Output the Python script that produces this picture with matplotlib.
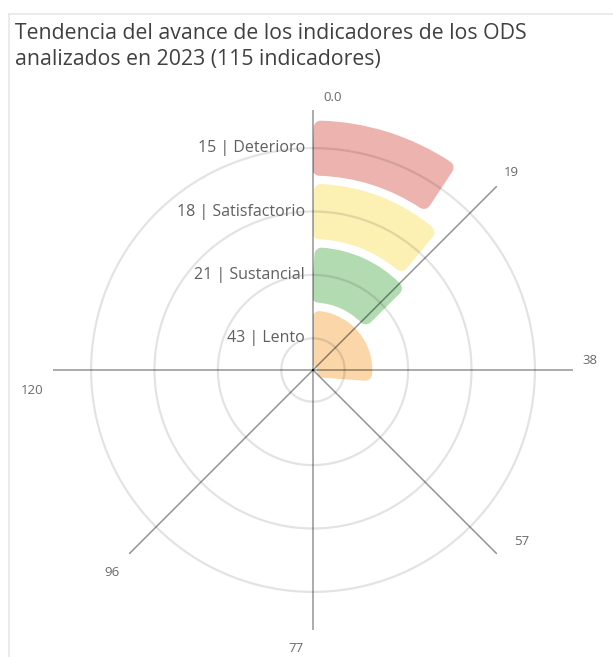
import numpy as np
import matplotlib.pyplot as plt
from matplotlib.lines import Line2D
from matplotlib.patches import Rectangle

plt.rcParams['font.family'] = ['Open Sans', 'DejaVu Sans']

# data
categories = ['Lento', 'Sustancial', 'Satisfactorio', 'Deterioro']
values = [43, 21, 18, 15]
colors = ['#FAD6A9', '#B2DBB1', '#FCF0B3', '#EDB3AE']
tick_labels = ['0.0', '19', '38', '57', '77', '96', '120']
full_scale = 115 * 4 / 3          # value for a full turn

W, H = 613, 657
fig = plt.figure(figsize=(W / 100, H / 100), dpi=100)

cx, cy, R = 313, 370, 260         # centre and radius in pixels
ax = fig.add_axes([(cx - R) / W, (H - cy - R) / H, 2 * R / W, 2 * R / H], projection='polar')
ax.set_theta_zero_location('N')
ax.set_theta_direction(-1)
ring = 63.4                       # pixels per ring
rmax = R / ring
ax.set_ylim(0, rmax)
ax.grid(False)
ax.set_xticks([])
ax.set_yticks([])
ax.spines['polar'].set_visible(False)
ax.patch.set_alpha(0)

# keep bars right of the 0 spoke
clip = Rectangle((cx / W, 0), 1, 1, transform=fig.transFigure, visible=False)
fig.add_artist(clip)

# bars with rounded corners (thick round-joined edge)
pad_px = 7
for i, (v, c) in enumerate(zip(values, colors)):
    centre = i + 0.5
    half = 0.435 - pad_px / ring
    bottom = max(centre - half, 0.12)
    top = centre + half
    rpx = centre * ring
    dth = min(pad_px / rpx, 0.12)
    th_end = v / full_scale * 2 * np.pi
    bars = ax.bar(dth, top - bottom, width=th_end - 2 * dth, bottom=bottom, align='edge',
                  color=c, edgecolor=c, linewidth=pad_px * 2 * 0.72, joinstyle='round', zorder=2)
    for b in bars:
        b.set_clip_path(clip)

# rings
tt = np.linspace(0, 2 * np.pi, 400)
for i in range(len(categories)):
    ax.plot(tt, np.full_like(tt, i + 0.5), color='black', alpha=0.11, lw=1.6, zorder=3)

# spokes and tick labels
offsets = [(20, 13), (15, 14), (17, 10), (25, 12), (-17, -18), (-17, -19), (-21, -20)]
for k, lab in enumerate(tick_labels):
    th = np.deg2rad(45 * k)
    ax.plot([th, th], [0, rmax], color='black', alpha=0.42, lw=1.1, zorder=4)
    ax.annotate(lab, (th, rmax), xytext=offsets[k], textcoords='offset pixels',
                ha='center', va='center', fontsize=9.5, color='#6a6a6a', annotation_clip=False)

# category labels
for i, (cat, v) in enumerate(zip(categories, values)):
    ax.annotate(f'{v} | {cat}', (0, i + 0.5), xytext=(-8, 0), textcoords='offset pixels',
                ha='right', va='center', fontsize=11.5, color='#606060', annotation_clip=False)

fig.text(15 / W, 1 - 23 / H, 'Tendencia del avance de los indicadores de los ODS\nanalizados en 2023 (115 indicadores)',
         ha='left', va='top', fontsize=15.3, color='#404040', linespacing=1.3)

# light frame of the visual
fig.add_artist(Line2D([8.5 / W, 8.5 / W], [0, 1 - 14 / H], color='#e8e8e8', lw=1.2))
fig.add_artist(Line2D([8.5 / W, 1], [1 - 14 / H, 1 - 14 / H], color='#e8e8e8', lw=1.2))

fig.savefig('out.png', dpi=100)
